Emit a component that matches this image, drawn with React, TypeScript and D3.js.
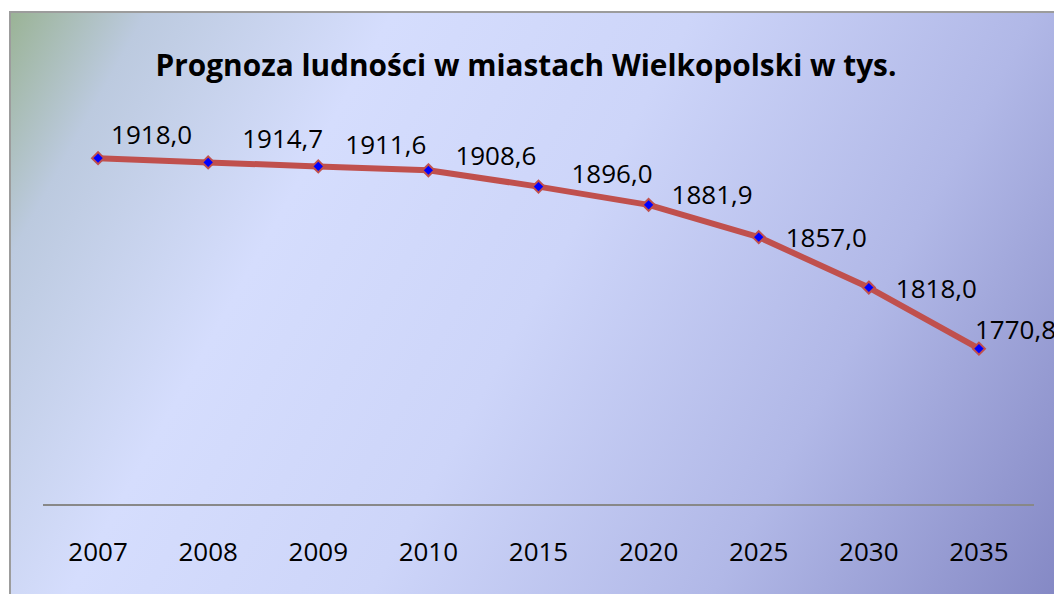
import React from "react";
import * as d3 from "d3";

const years = ["2007", "2008", "2009", "2010", "2015", "2020", "2025", "2030", "2035"];
const population = [1918.0, 1914.7, 1911.6, 1908.6, 1896.0, 1881.9, 1857.0, 1818.0, 1770.8];
const yDomain = [1650, 2000];
const title = "Prognoza ludności w miastach Wielkopolski w tys.";

// manual nudges of data labels relative to Excel "right" position
const labelNudgeX = [-14, 7, 0, 0, 6, -4, 0, 0, -31];
const labelNudgeY = [-24, -24, -22, -15, -14, -11, 0, 0, -20];

const W = 1054;
const H = 594;
const FONT = "'Open Sans', 'Noto Sans', sans-serif";

export default function App() {
  const x = d3.scaleBand<string>().domain(years).range([43, 1034]);
  const y = d3.scaleLinear().domain(yDomain).range([505, 52]);
  const cx = (i: number) => (x(years[i]) as number) + x.bandwidth() / 2;

  const line = d3
    .line<number>()
    .x((_, i) => cx(i))
    .y((d) => y(d));

  const fmt = (v: number) => v.toFixed(1).replace(".", ",");

  return (
    <svg
      width={W}
      height={H}
      style={{ position: "absolute", left: 0, top: 0, display: "block" }}
    >
      <defs>
        <linearGradient id="bg" gradientUnits="userSpaceOnUse" x1={10} y1={12} x2={1054} y2={594}>
          <stop offset="0" stopColor="#9ab395" />
          <stop offset="0.1" stopColor="#bccadf" />
          <stop offset="0.28" stopColor="#d5ddfd" />
          <stop offset="0.5" stopColor="#cdd5f9" />
          <stop offset="0.75" stopColor="#b1b8e7" />
          <stop offset="1" stopColor="#8589c5" />
        </linearGradient>
      </defs>
      <rect x={0} y={0} width={W} height={H} fill="#ffffff" />
      <rect x={10} y={12} width={W + 10} height={H + 10} fill="url(#bg)" stroke="#9c9c9c" strokeWidth={2} />

      <text
        x={526}
        y={76}
        textAnchor="middle"
        fontFamily={FONT}
        fontWeight="bold"
        fontSize={29.8}
        fill="#000"
      >
        {title}
      </text>

      <line x1={43} x2={1034} y1={505} y2={505} stroke="#888888" strokeWidth={2} />

      {years.map((yr, i) => (
        <text
          key={yr}
          x={cx(i)}
          y={561}
          textAnchor="middle"
          fontFamily={FONT}
          fontSize={26}
          fill="#000"
        >
          {yr}
        </text>
      ))}

      <path d={line(population) || ""} fill="none" stroke="#c0504d" strokeWidth={6} strokeLinejoin="round" />

      {population.map((v, i) => {
        const px = cx(i);
        const py = y(v);
        const r = 6;
        return (
          <path
            key={"m" + i}
            d={`M${px},${py - r}L${px + r},${py}L${px},${py + r}L${px - r},${py}Z`}
            fill="#0000ff"
            stroke="#c0504d"
            strokeWidth={2}
          />
        );
      })}

      {population.map((v, i) => (
        <text
          key={"l" + i}
          x={cx(i) + 27 + labelNudgeX[i]}
          y={y(v) + 10 + labelNudgeY[i]}
          fontFamily={FONT}
          fontSize={26}
          fill="#000"
        >
          {fmt(v)}
        </text>
      ))}
    </svg>
  );
}
